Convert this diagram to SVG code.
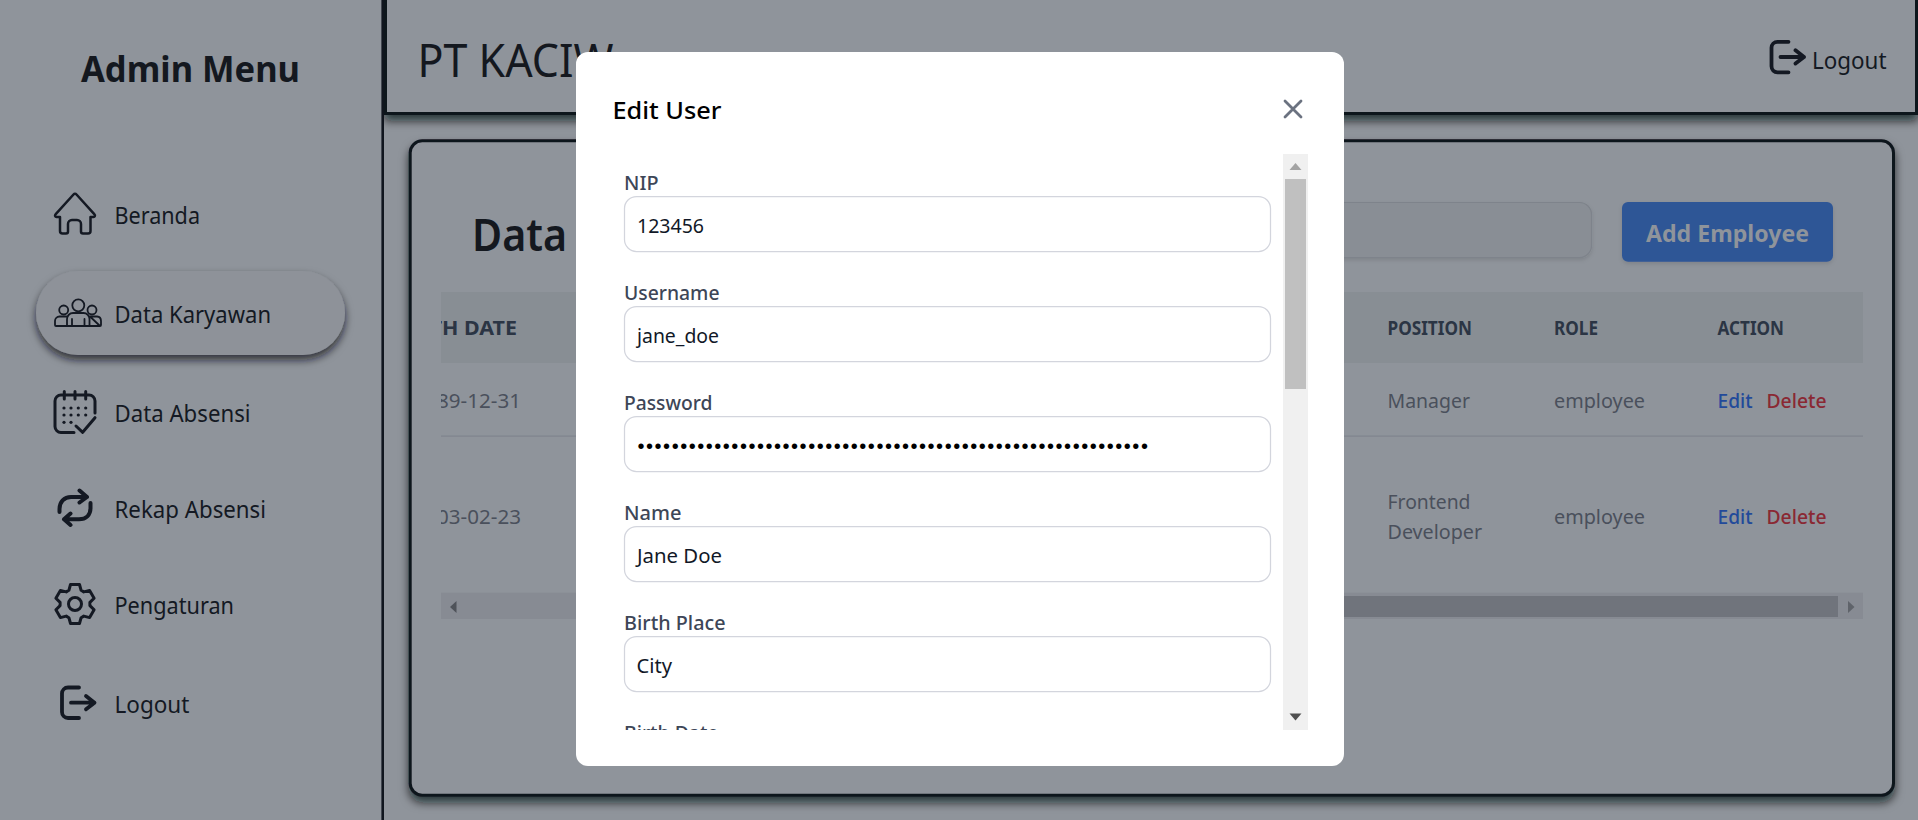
<svg xmlns="http://www.w3.org/2000/svg" width="1918" height="820" viewBox="0 0 1918 820">
<style>
text{font-family:"Noto Sans","Open Sans","Liberation Sans",sans-serif;white-space:pre}
.nav{font-size:24px;fill:#141923}
.ico{fill:none;stroke:#141923;stroke-linecap:round;stroke-linejoin:round}
.th{font-size:19px;font-weight:700;fill:#2b3544}
.td{font-size:20px;fill:#4a505c}
.edit{font-size:20px;font-weight:500;fill:#224a9a}
.del{font-size:20px;font-weight:500;fill:#8a2833}
.lbl{font-size:20px;font-weight:500;fill:#3d4657}
.val{font-size:20px;fill:#111827}
.inp{fill:#fff;stroke:#d3d5dd;stroke-width:1.25}
</style>
<defs>
<filter id="sh" x="-5%" y="-20%" width="110%" height="140%"><feDropShadow dx="0" dy="6" stdDeviation="5" flood-color="#05070c" flood-opacity=".7"/></filter>
<filter id="shp" x="-15%" y="-30%" width="130%" height="170%"><feDropShadow dx="0" dy="5" stdDeviation="4" flood-color="#0f131c" flood-opacity=".75"/></filter>
<filter id="shs" x="-5%" y="-20%" width="110%" height="150%"><feDropShadow dx="0" dy="2" stdDeviation="2" flood-color="#0a0d14" flood-opacity=".12"/></filter>
<clipPath id="tbl"><rect x="441" y="280" width="1422" height="345"/></clipPath>
<clipPath id="form"><rect x="600" y="154" width="683" height="576"/></clipPath>
<g id="logoutIcon"><path class="ico" stroke-width="3.800" d="M79 687.500H68a6 6 0 0 0-6 6V712a6 6 0 0 0 6 6h11M71 702.700H94.500M86 696l8.500 6.700L86 709.300"/></g>
</defs>
<rect id="backdrop" width="1918" height="820" fill="#8f949b"/>

<g id="main-card">
<rect x="410.200" y="140.800" width="1483.300" height="654.400" rx="12" fill="#8f949b" stroke="#10151e" stroke-width="3" filter="url(#sh)"/>
<text x="472" y="250.700" font-size="45" font-weight="600" fill="#14181f" textLength="95" lengthAdjust="spacingAndGlyphs">Data</text>
<rect id="search" x="1200" y="202.500" width="391.500" height="55" rx="12" fill="#898e95" stroke="#7e838b" stroke-width="1.200" filter="url(#shs)"/>
<g id="add-employee"><rect x="1622" y="202" width="211" height="59.700" rx="6" fill="#2f5696" filter="url(#shs)"/>
<text x="1646" y="241.700" font-size="24" font-weight="700" fill="#8f949b" textLength="163" lengthAdjust="spacingAndGlyphs">Add Employee</text></g>
<g id="table">
<rect x="441" y="292" width="1422" height="71" fill="#888e94"/>
<g clip-path="url(#tbl)">
<text class="th" x="393" y="335" textLength="124" lengthAdjust="spacingAndGlyphs">BIRTH DATE</text>
<text class="td" x="413.500" y="408" textLength="107.500" lengthAdjust="spacingAndGlyphs">1989-12-31</text>
<text class="td" x="413.500" y="524" textLength="107.500" lengthAdjust="spacingAndGlyphs">2003-02-23</text>
</g>
<text class="th" x="1387.500" y="335" textLength="84.500" lengthAdjust="spacingAndGlyphs">POSITION</text>
<text class="th" x="1554" y="335" textLength="44" lengthAdjust="spacingAndGlyphs">ROLE</text>
<text class="th" x="1717.500" y="335" textLength="66.500" lengthAdjust="spacingAndGlyphs">ACTION</text>
<text class="td" x="1387.500" y="408" textLength="82.500" lengthAdjust="spacingAndGlyphs">Manager</text>
<text class="td" x="1554" y="408" textLength="91" lengthAdjust="spacingAndGlyphs">employee</text>
<text class="edit" x="1717.500" y="408" textLength="35" lengthAdjust="spacingAndGlyphs">Edit</text>
<text class="del" x="1766.500" y="408" textLength="60" lengthAdjust="spacingAndGlyphs">Delete</text>
<rect x="441" y="435.500" width="1422" height="1.200" fill="#7f848d"/>
<text class="td" x="1387.500" y="509" textLength="83" lengthAdjust="spacingAndGlyphs">Frontend</text>
<text class="td" x="1387.500" y="539" textLength="94.600" lengthAdjust="spacingAndGlyphs">Developer</text>
<text class="td" x="1554" y="524" textLength="91" lengthAdjust="spacingAndGlyphs">employee</text>
<text class="edit" x="1717.500" y="524" textLength="35" lengthAdjust="spacingAndGlyphs">Edit</text>
<text class="del" x="1766.500" y="524" textLength="60" lengthAdjust="spacingAndGlyphs">Delete</text>
<rect x="441" y="592.700" width="1422" height="26.300" fill="#878b93"/>
<rect x="1200" y="596" width="638" height="21" fill="#70747c"/>
<polygon points="456.500,601 456.500,613 450,607" fill="#4f535a"/>
<polygon points="1848,601 1848,613 1854.500,607" fill="#5f636a"/>
</g>
</g>

<g id="header">
<rect x="385.500" y="-5" width="1531" height="118.500" fill="#8f949b" stroke="#10151e" stroke-width="3" filter="url(#sh)"/>
<text x="417.500" y="76.700" font-size="45" fill="#14181f" textLength="196" lengthAdjust="spacingAndGlyphs">PT KACIW</text>
<g id="header-logout"><use href="#logoutIcon" x="1709.500" y="-645.700"/>
<text class="nav" x="1812" y="68.500" textLength="74.500" lengthAdjust="spacingAndGlyphs">Logout</text></g>
</g>

<g id="sidebar">
<rect x="-3" y="-3" width="385.700" height="826" fill="#8f949b" stroke="#10151e" stroke-width="2.600"/>
<text x="81" y="82" font-size="36" font-weight="700" fill="#14181f" textLength="219" lengthAdjust="spacingAndGlyphs">Admin Menu</text>
<g id="nav-beranda">
<path class="ico" stroke-width="2.500" d="M60 217V231a2.500 2.500 0 0 0 2.500 2.500H66a2 2 0 0 0 2-2V224a4 4 0 0 1 4-4h5a4 4 0 0 1 4 4v7.500a2 2 0 0 0 2 2h5a2.500 2.500 0 0 0 2.500-2.500V217h3a1.500 1.500 0 0 0 1-2.600L76.500 194.500a2 2 0 0 0-3 0L55.500 214.400a1.500 1.500 0 0 0 1 2.600Z"/>
<text class="nav" x="114.500" y="224" textLength="85.500" lengthAdjust="spacingAndGlyphs">Beranda</text></g>
<g id="nav-karyawan">
<rect x="36" y="271" width="309" height="84" rx="42" fill="#8e9299" filter="url(#shp)"/>
<g class="ico" stroke-width="1.800"><circle cx="78.300" cy="305.300" r="6"/><circle cx="63.700" cy="310" r="4.500"/><circle cx="92" cy="310" r="4.500"/>
<path d="M67 326V319a6 6 0 0 1 6-6h10.500a6 6 0 0 1 6 6v7M72 326v-7M84.500 326v-7M56 326a1 1 0 0 1-1-1v-4a4.500 4.500 0 0 1 4.500-4.500h7M90 316.500h7a4.500 4.500 0 0 1 4 4.500v4a1 1 0 0 1-1 1ZM56 326H100"/></g>
<text class="nav" x="114.500" y="323" textLength="156.500" lengthAdjust="spacingAndGlyphs">Data Karyawan</text></g>
<g id="nav-absensi">
<path class="ico" stroke-width="3" d="M95 413V401a6 6 0 0 0-6-6H61a6 6 0 0 0-6 6v25.500a6 6 0 0 0 6 6H74M64.300 391.500V399M75 391.500V399M85.700 391.500V399M76 426l6.700 6.300L95 417.700"/>
<g fill="#141923"><circle cx="64" cy="408" r="1.600"/><circle cx="71" cy="408" r="1.600"/><circle cx="78.300" cy="408" r="1.600"/><circle cx="85.700" cy="408" r="1.600"/><circle cx="64" cy="415" r="1.600"/><circle cx="71" cy="415" r="1.600"/><circle cx="78.300" cy="415" r="1.600"/><circle cx="85.700" cy="415" r="1.600"/><circle cx="64" cy="422.300" r="1.600"/><circle cx="71" cy="422.300" r="1.600"/></g>
<text class="nav" x="114.500" y="422" textLength="136" lengthAdjust="spacingAndGlyphs">Data Absensi</text></g>
<g id="nav-rekap">
<path class="ico" stroke-width="4" d="M59.500 512V509C59.500 502 64 497 71 497H87M79.500 490.500L87 497L79.500 502.500M90.500 503V508C90.500 515 86 519.300 79 519.300H64M70.500 513.500L64 519.300L70.500 525"/>
<text class="nav" x="114.500" y="518" textLength="151.500" lengthAdjust="spacingAndGlyphs">Rekap Absensi</text></g>
<g id="nav-pengaturan">
<g class="ico" stroke-width="3" transform="translate(75 604)"><polygon points="-6.100,-13.700 -4.500,-19.500 4.500,-19.500 6.100,-13.700 8.800,-12.100 14.600,-13.600 19.100,-5.800 14.900,-1.600 14.900,1.600 19.100,5.800 14.600,13.600 8.800,12.100 6.100,13.700 4.500,19.500 -4.500,19.500 -6.100,13.700 -8.800,12.100 -14.600,13.600 -19.100,5.800 -14.900,1.600 -14.900,-1.600 -19.100,-5.800 -14.600,-13.600 -8.800,-12.100"/><circle r="6.500"/></g>
<text class="nav" x="114.500" y="614" textLength="119.500" lengthAdjust="spacingAndGlyphs">Pengaturan</text></g>
<g id="nav-logout"><use href="#logoutIcon"/>
<text class="nav" x="114.500" y="713" textLength="74.900" lengthAdjust="spacingAndGlyphs">Logout</text></g>
</g>

<g id="modal">
<rect x="576" y="52" width="768" height="714" rx="12" fill="#fff"/>
<text x="612.500" y="119" font-size="24" font-weight="500" fill="#000" textLength="109" lengthAdjust="spacingAndGlyphs">Edit User</text>
<path id="close" d="M1285 101L1301 117M1301 101L1285 117" stroke="#6b7280" stroke-width="2.800" stroke-linecap="round" fill="none"/>
<g id="form-fields" clip-path="url(#form)">
<g id="field-nip"><text class="lbl" x="624" y="190" textLength="34.500" lengthAdjust="spacingAndGlyphs">NIP</text>
<rect class="inp" x="624.500" y="196.500" width="646" height="55" rx="12"/>
<text class="val" x="637" y="233" textLength="67" lengthAdjust="spacingAndGlyphs">123456</text></g>
<g id="field-username"><text class="lbl" x="624" y="300" textLength="95.500" lengthAdjust="spacingAndGlyphs">Username</text>
<rect class="inp" x="624.500" y="306.500" width="646" height="55" rx="12"/>
<text class="val" x="637" y="343" textLength="82" lengthAdjust="spacingAndGlyphs">jane_doe</text></g>
<g id="field-password"><text class="lbl" x="624" y="410" textLength="88.500" lengthAdjust="spacingAndGlyphs">Password</text>
<rect class="inp" x="624.500" y="416.500" width="646" height="55" rx="12"/>
<text x="637.500" y="453" font-size="20" fill="#000" letter-spacing="1.530" style="font-family:'Liberation Sans',sans-serif">••••••••••••••••••••••••••••••••••••••••••••••••••••••••••••</text></g>
<g id="field-name"><text class="lbl" x="624" y="520" textLength="57.500" lengthAdjust="spacingAndGlyphs">Name</text>
<rect class="inp" x="624.500" y="526.500" width="646" height="55" rx="12"/>
<text class="val" x="637" y="563" textLength="85" lengthAdjust="spacingAndGlyphs">Jane Doe</text></g>
<g id="field-birthplace"><text class="lbl" x="624" y="630" textLength="101.500" lengthAdjust="spacingAndGlyphs">Birth Place</text>
<rect class="inp" x="624.500" y="636.500" width="646" height="55" rx="12"/>
<text class="val" x="636.500" y="673" textLength="35.500" lengthAdjust="spacingAndGlyphs">City</text></g>
<text class="lbl" x="624" y="740" textLength="94.500" lengthAdjust="spacingAndGlyphs">Birth Date</text>
</g>
<g id="modal-scrollbar">
<rect x="1283" y="154" width="25" height="576" fill="#f0f0f0"/>
<rect x="1285" y="179" width="21" height="210" fill="#c0c0c0"/>
<polygon points="1295.500,163 1301.500,170 1289.500,170" fill="#a3a3a3"/>
<polygon points="1289.500,713.500 1301.500,713.500 1295.500,720.500" fill="#505050"/>
</g>
</g>
</svg>
